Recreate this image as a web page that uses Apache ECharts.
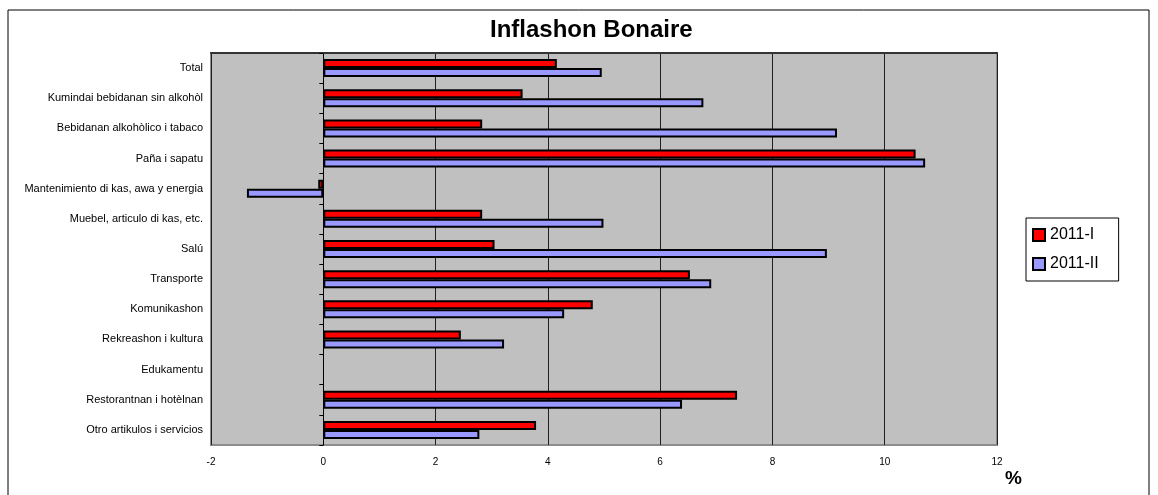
<!DOCTYPE html>
<html>
<head>
<meta charset="utf-8">
<script src="https://cdn.jsdelivr.net/npm/echarts@6/dist/echarts.min.js"></script>
<style>
  html, body { margin: 0; padding: 0; background: #fff; }
  #chart { width: 1158px; height: 495px; }
</style>
</head>
<body>
<div id="chart"></div>
<script>
// categories from top to bottom
var categories = [
    'Total',
    'Kumindai bebidanan sin alkohòl',
    'Bebidanan alkohòlico i tabaco',
    'Paña i sapatu',
    'Mantenimiento di kas, awa y energia',
    'Muebel, articulo di kas, etc.',
    'Salú',
    'Transporte',
    'Komunikashon',
    'Rekreashon i kultura',
    'Edukamentu',
    'Restorantnan i hotèlnan',
    'Otro artikulos i servicios'
];
var seriesNames = ['2011-I', '2011-II'];
var values2011I = [4.16, 3.55, 2.83, 10.55, -0.09, 2.83, 3.05, 6.53, 4.80, 2.45, null, 7.37, 3.79];
var values2011II = [4.96, 6.77, 9.15, 10.72, -1.36, 4.99, 8.97, 6.91, 4.29, 3.22, null, 6.39, 2.78];
var xTicks = [-2, 0, 2, 4, 6, 8, 10, 12];

var chart = echarts.init(document.getElementById('chart'), null, { renderer: 'canvas' });
var font = 'Liberation Sans, Arial, sans-serif';

var option = {
    backgroundColor: '#ffffff',
    animation: false,
    textStyle: { fontFamily: font },
    title: {
        text: 'Inflashon Bonaire',
        left: 485,
        top: 13,
        textStyle: { fontSize: 24, fontWeight: 'bold', color: '#000', fontFamily: font }
    },
    legend: {
        data: seriesNames,
        orient: 'vertical',
        left: 1026,
        top: 218,
        padding: [9, 20, 9, 6],
        itemGap: 13,
        itemWidth: 12,
        itemHeight: 12,
        icon: 'rect',
        borderColor: '#000',
        borderWidth: 1,
        backgroundColor: '#fff',
        textStyle: { fontSize: 16, color: '#000', fontFamily: font }
    },
    grid: {
        left: 211,
        right: 161,
        top: 53,
        bottom: 50,
        show: true,
        backgroundColor: '#c0c0c0',
        borderColor: '#8c8c8c',
        borderWidth: 2
    },
    xAxis: [{
        type: 'value',
        min: xTicks[0],
        max: xTicks[xTicks.length - 1],
        interval: 2,
        position: 'bottom',
        axisLine: { show: false },
        axisTick: { show: false },
        axisLabel: { fontSize: 10, color: '#000', margin: 12, fontFamily: font },
        splitLine: { show: true, lineStyle: { color: '#202020', width: 1 } }
    }, {
        type: 'value',
        min: xTicks[0],
        max: xTicks[xTicks.length - 1],
        interval: 2,
        position: 'top',
        axisLine: { show: true, onZero: false, lineStyle: { color: '#333', width: 2 } },
        axisTick: { show: false },
        axisLabel: { show: false },
        splitLine: { show: false }
    }],
    yAxis: [{
        type: 'category',
        data: categories,
        inverse: true,
        position: 'left',
        axisLine: { show: false, onZero: false },
        axisTick: { show: false },
        axisLabel: { fontSize: 11, color: '#000', margin: 8, fontFamily: font }
    }, {
        type: 'category',
        data: categories,
        inverse: true,
        position: 'left',
        axisLine: { show: true, onZero: true, lineStyle: { color: '#000', width: 1 } },
        axisTick: { show: true, length: 4, lineStyle: { color: '#000' } },
        axisLabel: { show: false },
        splitLine: { show: false }
    }],
    graphic: [{
        type: 'rect',
        silent: true,
        z: -1,
        shape: { x: 8, y: 10, width: 1141, height: 495 },
        style: { fill: 'none', stroke: '#000', lineWidth: 1 }
    }, {
        type: 'text',
        left: 1005,
        top: 469,
        style: { text: '%', fontSize: 19, fontWeight: 'bold', fill: '#000', font: 'bold 19px ' + font }
    }],
    series: [{
        name: seriesNames[0],
        type: 'bar',
        data: values2011I,
        barWidth: 9,
        barGap: '0%',
        itemStyle: { color: '#ff0000', borderColor: '#000', borderWidth: 2 }
    }, {
        name: seriesNames[1],
        type: 'bar',
        data: values2011II,
        barWidth: 9,
        barGap: '0%',
        itemStyle: { color: '#9999ff', borderColor: '#000', borderWidth: 2 }
    }]
};

chart.setOption(option);
</script>
</body>
</html>
